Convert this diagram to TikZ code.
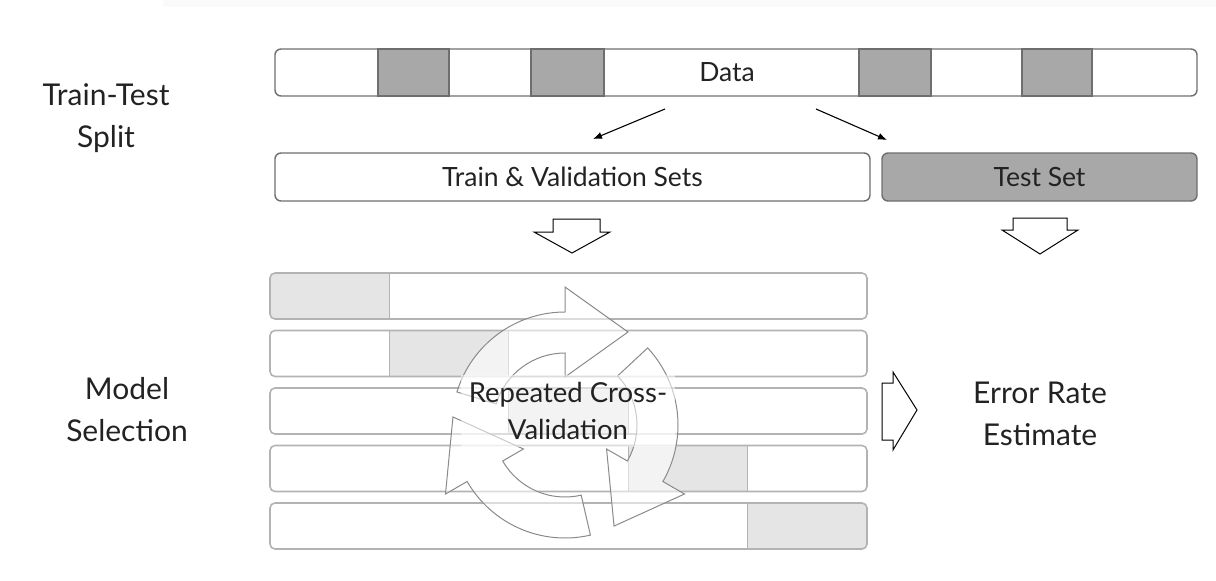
\documentclass[tikz,border=0pt]{standalone}
\usepackage{fontspec}
\setmainfont{Lato}
\usetikzlibrary{arrows.meta}
\definecolor{segdark}{HTML}{A8A8A8}
\definecolor{seglight}{HTML}{E5E5E5}
\definecolor{edge}{HTML}{6E6E6E}
\definecolor{foldedge}{HTML}{B3B3B3}
\definecolor{cyc}{HTML}{8A8A8A}
\definecolor{ink}{HTML}{222222}
\tikzset{
  setbox/.style={draw=edge, line width=1.4pt, rounded corners=6pt, minimum height=48pt, inner sep=0pt, text=ink, font=\fontsize{26.5}{30}\selectfont},
  foldbar/.style={draw=foldedge, line width=1.6pt, rounded corners=5pt, minimum width=597pt, minimum height=46pt, inner sep=0pt},
  sidelabel/.style={align=center, text=ink, font=\fontsize{30}{42}\selectfont},
  hollowarrow/.style={draw=black, line width=1pt, fill=white, line join=miter},
  splitarrow/.style={-{Latex[length=9pt,width=7pt]}, line width=1.1pt},
  cvarrow/.style={draw=cyc, line width=1pt, fill=white, fill opacity=0.55},
}

\begin{document}
\begin{tikzpicture}[x=1pt,y=1pt]
        \useasboundingbox (0,0) rectangle (1216,-581);
        \fill[black!2] (163,0) rectangle (1216,-7);

        % data bar
        \filldraw[fill=segdark, draw=edge, line width=1.4pt] (378,-49) rectangle (449,-96);
        \filldraw[fill=segdark, draw=edge, line width=1.4pt] (531,-49) rectangle (604,-96);
        \filldraw[fill=segdark, draw=edge, line width=1.4pt] (859,-49) rectangle (931,-96);
        \filldraw[fill=segdark, draw=edge, line width=1.4pt] (1022,-49) rectangle (1092,-96);
        \node[setbox, minimum width=922pt, minimum height=47pt] (data) at (736,-72.5) {};
        \node[text=ink, font=\fontsize{26.5}{30}\selectfont] (datatext) at (727,-72.5) {Data};

        % split
        \node[setbox, minimum width=595pt] (trainval) at (572.5,-177) {Train \& Validation Sets};
        \node[setbox, minimum width=315pt, fill=segdark] (testset) at (1039.5,-177) {Test Set};
        \coordinate (splitA) at (665,-109);
        \coordinate (toTrain) at (593,-139);
        \coordinate (splitB) at (816,-109);
        \coordinate (toTest) at (887,-140);
        \draw[splitarrow] (splitA) -- (toTrain);
        \draw[splitarrow] (splitB) -- (toTest);

        % hollow arrows
        \draw[hollowarrow] (553,-219) -- (600,-219) -- (600,-232) -- (610,-232)
            -- (572,-253) -- (534,-232) -- (553,-232) -- cycle;
        \draw[hollowarrow] (1013,-218) -- (1067,-218) -- (1067,-230) -- (1078,-230)
            -- (1040,-254) -- (1002,-230) -- (1013,-230) -- cycle;
        \draw[hollowarrow] (882,-383) -- (893,-383) -- (893,-372)
            -- (917,-410) -- (893,-450) -- (893,-440) -- (882,-440) -- cycle;

        % folds
        \begin{scope}
            \clip[rounded corners=5pt] (270,-273) rectangle (867,-319)
                (270,-330.5) rectangle (867,-376.5)
                (270,-388) rectangle (867,-434)
                (270,-445.5) rectangle (867,-491.5)
                (270,-503) rectangle (867,-549);
            \filldraw[fill=seglight, draw=foldedge, line width=0.8pt] (270,-273) rectangle (389,-319);
            \filldraw[fill=seglight, draw=foldedge, line width=0.8pt] (389,-330.5) rectangle (508,-376.5);
            \filldraw[fill=seglight, draw=foldedge, line width=0.8pt] (508,-388) rectangle (628,-434);
            \filldraw[fill=seglight, draw=foldedge, line width=0.8pt] (628,-445.5) rectangle (747,-491.5);
            \filldraw[fill=seglight, draw=foldedge, line width=0.8pt] (747,-503) rectangle (867,-549);
        \end{scope}
        \node[foldbar] (fold1) at (568.5,-296) {};
        \node[foldbar] (fold2) at (568.5,-353.5) {};
        \node[foldbar] (fold3) at (568.5,-411) {};
        \node[foldbar] (fold4) at (568.5,-468.5) {};
        \node[foldbar] (fold5) at (568.5,-526) {};

        % circular arrows
        \begin{scope}[shift={(565,-425)}]
            \draw[cvarrow] (163:113) arc[start angle=163, end angle=90, radius=113] -- (90:138)
                -- (63,93) -- (90:48) -- (90:72) arc[start angle=90, end angle=163, radius=72] -- cycle;
        \end{scope}
        \begin{scope}[shift={(565,-425)}, rotate=-120]
            \draw[cvarrow] (163:113) arc[start angle=163, end angle=90, radius=113] -- (90:138)
                -- (63,93) -- (90:48) -- (90:72) arc[start angle=90, end angle=163, radius=72] -- cycle;
        \end{scope}
        \begin{scope}[shift={(565,-425)}, rotate=120]
            \draw[cvarrow] (163:113) arc[start angle=163, end angle=90, radius=113] -- (90:138)
                -- (63,93) -- (90:48) -- (90:72) arc[start angle=90, end angle=163, radius=72] -- cycle;
        \end{scope}
        \node[fill=white, fill opacity=0.55, text opacity=1, text=ink, align=center, minimum width=214pt,
            minimum height=72pt, inner sep=0pt, font=\fontsize{27.5}{37}\selectfont] (cvtext) at (568,-411) {Repeated Cross-\\Validation};

        % labels
        \node[sidelabel] (splitlabel) at (106,-118) {Train-Test\\Split};
        \node[sidelabel] (modellabel) at (127,-410) {Model\\Selection};
        \node[sidelabel] (errorlabel) at (1040,-414) {Error Rate\\Estimate};
    \end{tikzpicture}
\end{document}
